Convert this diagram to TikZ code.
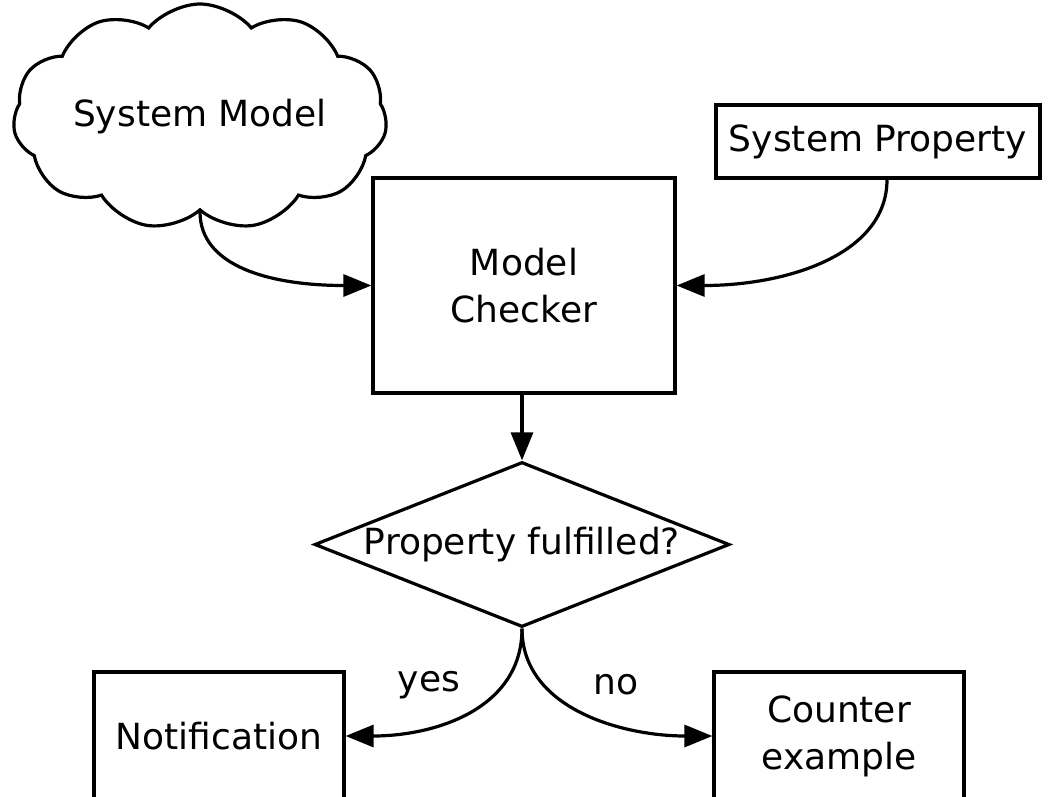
\documentclass[tikz,border=0pt]{standalone}
\usepackage{fontspec}
\setmainfont{DejaVu Sans}
\usetikzlibrary{shapes.geometric,shapes.symbols,arrows.meta}
\begin{document}
\begin{tikzpicture}[x=1pt,y=-1pt,
  every node/.style={font=\fontsize{36}{47}\selectfont, align=center},
  box/.style={draw, line width=3.2pt, rectangle, inner sep=0pt},
  arr/.style={line width=3.2pt, -{Triangle[length=28pt,width=22pt]}},
  lbl/.style={inner sep=0pt}]
\clip (0,0) rectangle (1052,796);
\fill[white] (0,0) rectangle (1052,796);
\node[draw, cloud, cloud puffs=11, cloud puff arc=100, minimum width=374pt, minimum height=226pt, line width=3.2pt, inner sep=0pt,
  label={[lbl]center:System Model}] (model) at (200,117) {};
\node[box, minimum width=324pt, minimum height=73pt] (prop) at (878,141.5) {System Property};
\node[box, minimum width=302pt, minimum height=215pt] (mc) at (524,285.5) {Model\\Checker};
\node[draw, diamond, line width=3.2pt, aspect=2.5, minimum width=415pt, minimum height=165pt, inner sep=0pt] (dec) at (522,544.5) {Property fulfilled?};
\node[box, minimum width=250pt, minimum height=128pt] (notif) at (219,736) {Notification};
\node[box, minimum width=250pt, minimum height=128pt] (ce) at (839,736) {Counter\\example};
\draw[arr] (model.south) .. controls +(0,55) and +(-100,0) .. (mc.west);
\draw[arr] ([xshift=9pt]prop.south) .. controls +(0,75) and +(110,0) .. (mc.east);
\draw[arr] (dec.north |- mc.south) -- (dec.north);
\draw[arr] (dec.south) .. controls +(0,80) and +(90,0) .. (notif.east);
\draw[arr] (dec.south) .. controls +(0,80) and +(-90,0) .. (ce.west);
\node[lbl] (yes) at (429,685) {yes};
\node[lbl] (no) at (616,685) {no};
\end{tikzpicture}
\end{document}
